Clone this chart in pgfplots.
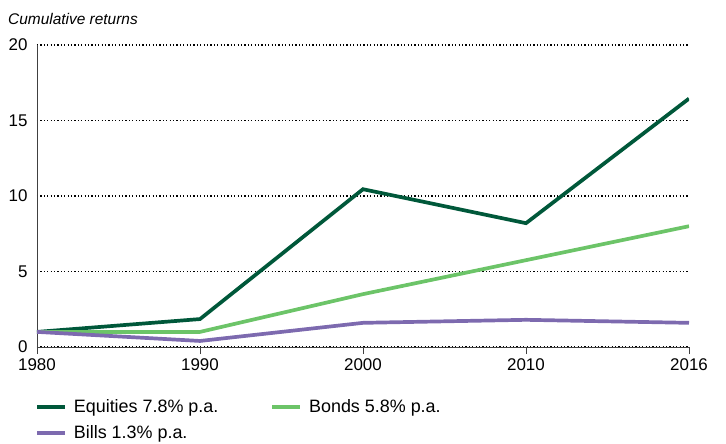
\documentclass[border=0pt]{standalone}
\usepackage{pgfplots}
\pgfplotsset{compat=1.18}
\usepackage{fontspec}
\setmainfont{Liberation Sans}
\definecolor{eqc}{RGB}{0,88,58}
\definecolor{bdc}{RGB}{108,196,104}
\definecolor{blc}{RGB}{125,106,175}
\begin{document}
\begin{tikzpicture}
\useasboundingbox (-37bp,-97bp) rectangle (689bp,347bp);
\begin{axis}[
  at={(0,0)}, anchor=origin,
  scale only axis, width=652bp, height=302bp,
  xmin=0, xmax=4, ymin=0, ymax=20,
  xtick={0,1,2,3,4},
  xticklabels={1980,1990,2000,2010,2016},
  ytick={0,5,10,15,20},
  axis x line*=bottom, axis y line*=left,
  axis line style={black!75, line width=0.8bp},
  ymajorgrids,
  major grid style={black, line width=1.3bp, dash pattern=on 1.2bp off 2.2bp},
  ytick style={draw=none},
  xtick style={black!75, line width=0.8bp},
  tick align=outside, major tick length=7bp,
  /pgf/number format/assume math mode=true,
  tick label style={font=\fontsize{17}{20}\selectfont},
  yticklabel style={xshift=1bp},
  xticklabel style={yshift=-1bp},
  legend columns=2,
  legend style={at={(0,-0.16)}, anchor=north west, draw=none, fill=none,
    font=\fontsize{18}{21}\selectfont, cells={anchor=west},
    row sep=8bp, xshift=-5bp,
    /tikz/every even column/.append style={column sep=50bp}},
  legend image code/.code={\draw[#1] (0bp,0bp) -- (28bp,0bp); \path (33bp,0bp);},
]
\addplot[eqc, line width=3.7bp] coordinates {(0,1) (1,1.85) (2,10.45) (3,8.2) (4,16.45)};
\addlegendentry{Equities 7.8\% p.a.}
\addplot[bdc, line width=3.7bp] coordinates {(0,1) (1,1.0) (2,3.5) (3,5.75) (4,8.0)};
\addlegendentry{Bonds 5.8\% p.a.}
\addplot[blc, line width=3.7bp] coordinates {(0,1) (1,0.4) (2,1.6) (3,1.8) (4,1.6)};
\addlegendentry{Bills 1.3\% p.a.}
\end{axis}
\node[anchor=base west, font=\itshape\fontsize{15.5}{18}\selectfont, inner sep=0pt] at (-29bp,322bp) {Cumulative returns};
\end{tikzpicture}
\end{document}
